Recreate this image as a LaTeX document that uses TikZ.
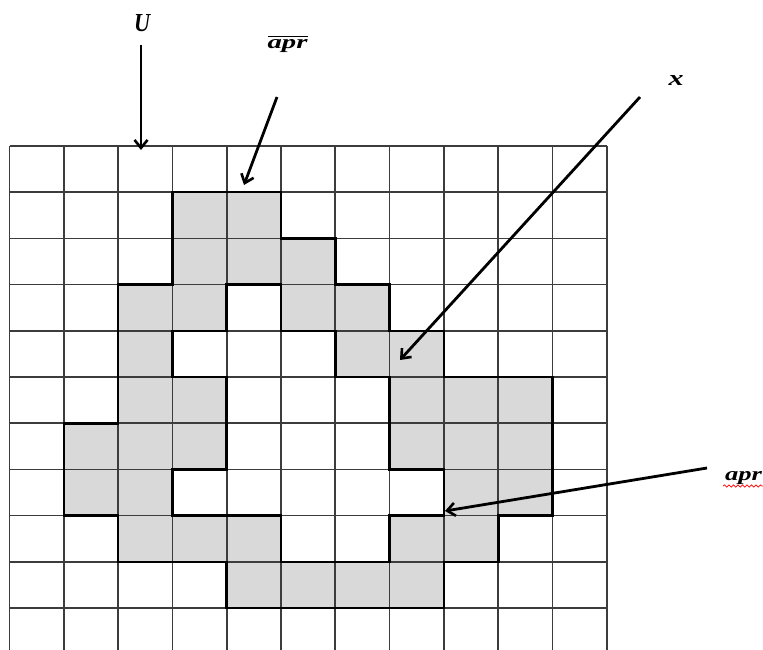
\documentclass[tikz,border=0pt]{standalone}
\usepackage{fontspec}
\setmainfont{Liberation Serif}
\usepackage{graphicx}
\usetikzlibrary{arrows.meta,decorations.pathmorphing}
\definecolor{cellgray}{HTML}{D9D9D9}
\definecolor{gridline}{HTML}{3C3C3C}
\begin{document}
\begin{tikzpicture}[x=1pt,y=1pt,
  gridln/.style={draw=gridline,line width=1.7pt},
  outline/.style={draw=black,line width=2.6pt,line join=miter},
  shade/.style={fill=cellgray,even odd rule},
  lbl/.style={inner sep=0pt,anchor=base,font=\bfseries\itshape},
  pointer/.style={line width=2.8pt,-{Straight Barb[length=8pt,width=13pt,line width=2.6pt]}},
  squiggle/.style={draw=red,line width=0.7pt,decorate,decoration={snake,amplitude=1.1pt,segment length=4.5pt}}]
\useasboundingbox (0,0) rectangle (763,649);
\begin{scope}[shift={(9.5,503)},x=54.3pt,y=-46.2pt]
  % shaded ring (even odd)
  \fill[shade]
    (3,1) -- (5,1) -- (5,2) -- (6,2) -- (6,3) -- (7,3) -- (7,4) -- (8,4) -- (8,5) -- (10,5) -- (10,8) -- (9,8) -- (9,9) -- (8,9) -- (8,10) -- (4,10) -- (4,9) -- (2,9) -- (2,8) -- (1,8) -- (1,6) -- (2,6) -- (2,3) -- (3,3) -- cycle
    (4,3) -- (5,3) -- (5,4) -- (6,4) -- (6,5) -- (7,5) -- (7,7) -- (8,7) -- (8,8) -- (7,8) -- (7,9) -- (5,9) -- (5,8) -- (3,8) -- (3,7) -- (4,7) -- (4,5) -- (3,5) -- (3,4) -- (4,4) -- cycle;
  % grid
  \foreach \c in {0,...,11} \draw[gridln] (\c,0) -- (\c,11);
  \foreach \r in {0,...,10} \draw[gridln] (0,\r) -- (11,\r);
  % boundaries
  \draw[outline]
    (3,1) -- (5,1) -- (5,2) -- (6,2) -- (6,3) -- (7,3) -- (7,4) -- (8,4) -- (8,5) -- (10,5) -- (10,8) -- (9,8) -- (9,9) -- (8,9) -- (8,10) -- (4,10) -- (4,9) -- (2,9) -- (2,8) -- (1,8) -- (1,6) -- (2,6) -- (2,3) -- (3,3) -- cycle;
  \draw[outline]
    (4,3) -- (5,3) -- (5,4) -- (6,4) -- (6,5) -- (7,5) -- (7,7) -- (8,7) -- (8,8) -- (7,8) -- (7,9) -- (5,9) -- (5,8) -- (3,8) -- (3,7) -- (4,7) -- (4,5) -- (3,5) -- (3,4) -- (4,4) -- cycle;
\end{scope}
% labels
\node[lbl] (U) at (142,617) {\resizebox{16pt}{17pt}{U}};
\node[lbl] (aprup) at (287.5,600) {\vbox{\hrule height 1.6pt\kern 2.6pt\hbox{\resizebox{40pt}{9pt}{apr}}}};
\node[lbl] (xl) at (676,563) {\resizebox{15pt}{10pt}{x}};
\node[lbl] (aprlow) at (743.5,169) {\resizebox{37pt}{9pt}{apr}};
% arrow end points
\coordinate (Ua) at (141,604);
\coordinate (Ub) at (141,499);
\coordinate (Aa) at (277,552);
\coordinate (Ab) at (244,464);
\coordinate (Xa) at (640,552);
\coordinate (Xb) at (400,289);
\coordinate (La) at (707,181);
\coordinate (Lb) at (445,138);
\coordinate (Sa) at (723,163);
\coordinate (Sb) at (763,163);
\draw[pointer] (Ua) -- (Ub);
\draw[pointer] (Aa) -- (Ab);
\draw[pointer] (Xa) -- (Xb);
\draw[pointer] (La) -- (Lb);
\draw[squiggle] (Sa) -- (Sb);
\end{tikzpicture}
\end{document}
